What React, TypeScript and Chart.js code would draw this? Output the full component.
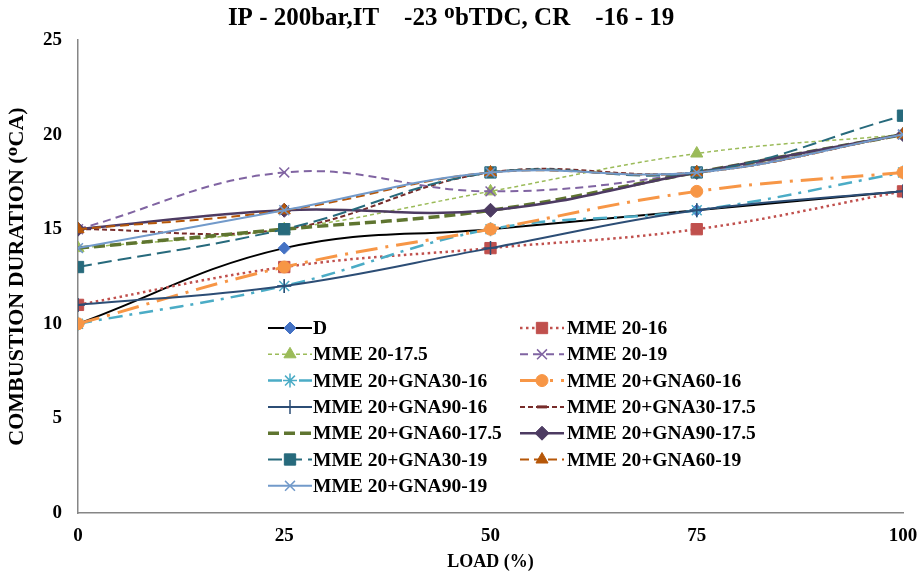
import React, { useEffect, useRef } from "react";
import { Chart, registerables } from "chart.js";
import { drawPoint } from "chart.js/helpers";

Chart.register(...registerables);

const loads = [0, 25, 50, 75, 100];
const yTicks = [0, 5, 10, 15, 20, 25];
const xTicks = [0, 25, 50, 75, 100];

const seriesNames = [
  "D",
  "MME 20-16",
  "MME 20-17.5",
  "MME 20-19",
  "MME 20+GNA30-16",
  "MME 20+GNA60-16",
  "MME 20+GNA90-16",
  "MME 20+GNA30-17.5",
  "MME 20+GNA60-17.5",
  "MME 20+GNA90-17.5",
  "MME 20+GNA30-19",
  "MME 20+GNA60-19",
  "MME 20+GNA90-19",
];

const D = [10, 14, 15, 16, 17];
const MME_20_16 = [11, 13, 14, 15, 17];
const MME_20_175 = [14, 15, 17, 19, 20];
const MME_20_19 = [15, 18, 17, 18, 20];
const GNA30_16 = [10, 12, 15, 16, 18];
const GNA60_16 = [10, 13, 15, 17, 18];
const GNA90_16 = [11, 12, 14, 16, 17];
const GNA30_175 = [15, 15, 18, 18, 20];
const GNA60_175 = [14, 15, 16, 18, 20];
const GNA90_175 = [15, 16, 16, 18, 20];
const GNA30_19 = [13, 15, 18, 18, 21];
const GNA60_19 = [15, 16, 18, 18, 20];
const GNA90_19 = [14, 16, 18, 18, 20];

const seriesValues = [
  D, MME_20_16, MME_20_175, MME_20_19, GNA30_16, GNA60_16, GNA90_16,
  GNA30_175, GNA60_175, GNA90_175, GNA30_19, GNA60_19, GNA90_19,
];

type Style = {
  line: string;
  fill: string;
  stroke: string;
  width: number;
  dash: number[];
  point: string;
  radius: number;
  pbw: number;
};

const styles: Style[] = [
  { line: "#000000", fill: "#4472C4", stroke: "#4472C4", width: 2, dash: [], point: "rectRot", radius: 6, pbw: 1 },
  { line: "#C0504D", fill: "#C0504D", stroke: "#C0504D", width: 2.5, dash: [2.5, 3.5], point: "rect", radius: 8, pbw: 1 },
  { line: "#9BBB59", fill: "#9BBB59", stroke: "#9BBB59", width: 1.5, dash: [4, 3], point: "triangle", radius: 7, pbw: 1 },
  { line: "#8064A2", fill: "#8064A2", stroke: "#8064A2", width: 2, dash: [8, 5], point: "crossRot", radius: 7, pbw: 1.5 },
  { line: "#4BACC6", fill: "#4BACC6", stroke: "#4BACC6", width: 2.5, dash: [14, 7, 3, 7], point: "star", radius: 7, pbw: 1.5 },
  { line: "#F79646", fill: "#F79646", stroke: "#F79646", width: 3, dash: [22, 8, 3, 8], point: "circle", radius: 6, pbw: 1 },
  { line: "#2C4D75", fill: "#2C4D75", stroke: "#2C4D75", width: 2, dash: [], point: "cross", radius: 7, pbw: 1.5 },
  { line: "#772C2A", fill: "#772C2A", stroke: "#772C2A", width: 2, dash: [5, 3], point: "line", radius: 5, pbw: 3 },
  { line: "#5F7530", fill: "#5F7530", stroke: "#5F7530", width: 3.5, dash: [11, 5], point: "line", radius: 0, pbw: 1 },
  { line: "#4D3B62", fill: "#4D3B62", stroke: "#4D3B62", width: 2.5, dash: [], point: "rectRot", radius: 7, pbw: 1 },
  { line: "#276A7C", fill: "#276A7C", stroke: "#276A7C", width: 2, dash: [14, 6], point: "rect", radius: 8, pbw: 1 },
  { line: "#B65708", fill: "#B65708", stroke: "#B65708", width: 2, dash: [9, 5], point: "triangle", radius: 7, pbw: 1 },
  { line: "#729ACA", fill: "#729ACA", stroke: "#729ACA", width: 2, dash: [], point: "crossRot", radius: 7, pbw: 1.5 },
];

const FONT = "'Liberation Serif', 'Times New Roman', serif";

const legendPlugin = {
  id: "insideLegend",
  afterDraw(chart: any) {
    const ctx = chart.ctx;
    ctx.save();
    seriesNames.forEach((name, i) => {
      const st = styles[i];
      const col = i % 2;
      const row = Math.floor(i / 2);
      const x0 = col === 0 ? 268 : 520;
      const x1 = x0 + 44;
      const y = 328 + row * 26.3;
      ctx.beginPath();
      ctx.setLineDash(st.dash);
      ctx.strokeStyle = st.line;
      ctx.lineWidth = st.width;
      ctx.moveTo(x0, y);
      ctx.lineTo(x1, y);
      ctx.stroke();
      ctx.setLineDash([]);
      if (st.radius > 0) {
        ctx.fillStyle = st.fill;
        ctx.strokeStyle = st.stroke;
        ctx.lineWidth = st.pbw;
        drawPoint(ctx, { pointStyle: st.point as any, radius: st.radius, borderWidth: st.pbw, rotation: 0 } as any, (x0 + x1) / 2, y);
      }
      ctx.fillStyle = "#000";
      ctx.font = `bold 19.5px ${FONT}`;
      ctx.textBaseline = "middle";
      ctx.textAlign = "left";
      ctx.fillText(name, col === 0 ? 313 : 567, y + 1);
    });
    ctx.restore();
  },
};

export default function App() {
  const ref = useRef<HTMLCanvasElement>(null);
  useEffect(() => {
    if (!ref.current) return;
    const n = seriesNames.length;
    const chart = new Chart(ref.current, {
      type: "line",
      data: {
        datasets: seriesNames.map((name, i) => ({
          label: name,
          data: loads.map((x, j) => ({ x, y: seriesValues[i][j] })),
          borderColor: styles[i].line,
          borderWidth: styles[i].width,
          borderDash: styles[i].dash,
          backgroundColor: styles[i].fill,
          pointBackgroundColor: styles[i].fill,
          pointBorderColor: styles[i].stroke,
          pointBorderWidth: styles[i].pbw,
          pointStyle: styles[i].point as any,
          pointRadius: styles[i].radius,
          tension: 0.4,
          fill: false,
          order: n - i,
        })),
      },
      options: {
        animation: false,
        responsive: false,
        layout: { padding: { top: 0, right: 0, bottom: 0, left: 2 } },
        plugins: {
          legend: { display: false },
          tooltip: { enabled: false },
          title: {
            display: true,
            text: "IP - 200bar,IT    -23 ᴼbTDC, CR    -16 - 19   ",
            color: "#000",
            font: { family: FONT, size: 25, weight: "bold" },
            padding: { top: 4, bottom: 6 },
          },
        },
        scales: {
          x: {
            type: "linear",
            min: 0,
            max: 100,
            afterBuildTicks: (axis: any) => {
              axis.ticks = xTicks.map((v) => ({ value: v }));
            },
            afterFit: (s: any) => {
              s.height = 60;
              s.paddingLeft = 0;
              s.paddingRight = 16;
            },
            grid: { display: false, drawTicks: false },
            border: { display: true, color: "#868686", width: 1.5 },
            ticks: {
              color: "#000",
              font: { family: FONT, size: 19, weight: "bold" },
              padding: 12,
              maxRotation: 0,
            },
            title: {
              display: true,
              text: "LOAD (%)",
              color: "#000",
              font: { family: FONT, size: 18, weight: "bold" },
              padding: { top: 3, bottom: 0 },
            },
          },
          y: {
            type: "linear",
            min: 0,
            max: 25,
            afterBuildTicks: (axis: any) => {
              axis.ticks = yTicks.map((v) => ({ value: v }));
            },
            afterFit: (s: any) => {
              s.width = 76;
              s.paddingTop = 0;
              s.paddingBottom = 0;
            },
            grid: { display: false, drawTicks: false },
            border: { display: true, color: "#868686", width: 1.5 },
            ticks: {
              color: "#000",
              font: { family: FONT, size: 19, weight: "bold" },
              padding: 16,
            },
            title: {
              display: true,
              text: "COMBUSTION DURATION (ᴼCA)",
              color: "#000",
              font: { family: FONT, size: 22, weight: "bold" },
              padding: { top: 2, bottom: 10 },
            },
          },
        },
      },
      plugins: [legendPlugin],
    });
    return () => chart.destroy();
  }, []);
  return (
    <div style={{ position: "fixed", left: 0, top: 0, width: 919, height: 573, background: "#fff" }}>
      <canvas ref={ref} width={919} height={573} />
    </div>
  );
}
